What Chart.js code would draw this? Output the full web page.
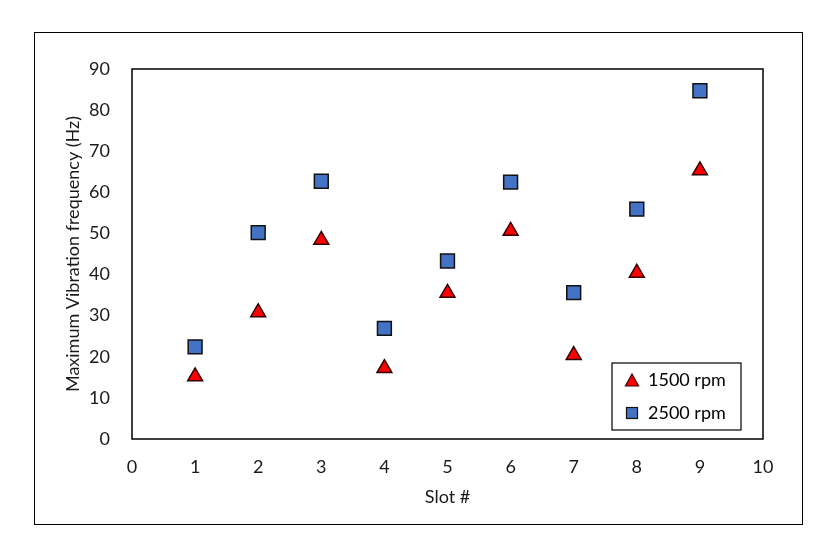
<!DOCTYPE html>
<html>
<head>
    <meta charset="UTF-8">
    <title>Maximum Vibration frequency</title>
    <script src="https://cdn.jsdelivr.net/npm/chart.js"></script>
    <style>
        html, body { margin: 0; padding: 0; background: #fff; }
        #frame {
            position: absolute; left: 34px; top: 32px;
            width: 769px; height: 493px;
            border: 1px solid #000; box-sizing: border-box;
        }
    </style>
</head>
<body>
    <div id="frame"><canvas id="chart"></canvas></div>
    <script>
        // data
        const slots = [1, 2, 3, 4, 5, 6, 7, 8, 9];
        const rpm1500 = [15.2, 30.8, 48.4, 17.2, 35.5, 50.6, 20.4, 40.4, 65.3];
        const rpm2500 = [22.4, 50.2, 62.7, 26.9, 43.3, 62.5, 35.6, 55.9, 84.7];
        const seriesNames = ['1500 rpm', '2500 rpm'];

        const FONT = 'Lato, "Open Sans", sans-serif';

        // box round the plot area
        const plotBox = {
            id: 'plotBox',
            beforeDatasetsDraw(chart) {
                const a = chart.chartArea, c = chart.ctx;
                c.save();
                c.strokeStyle = '#000';
                c.lineWidth = 1.5;
                c.strokeRect(a.left, a.top, a.right - a.left, a.bottom - a.top);
                c.restore();
            }
        };

        // legend drawn inside the plot, bottom right
        const boxLegend = {
            id: 'boxLegend',
            afterDraw(chart) {
                const c = chart.ctx;
                const x = 577, y = 330, w = 129, h = 67;
                c.save();
                c.fillStyle = '#fff';
                c.fillRect(x, y, w, h);
                c.strokeStyle = '#000';
                c.lineWidth = 1.2;
                c.strokeRect(x, y, w, h);
                c.font = '18px ' + FONT;
                c.fillStyle = '#000';
                c.textBaseline = 'middle';
                // triangle
                const tx = 597, ty = 348;
                c.beginPath();
                c.moveTo(tx, ty - 7);
                c.lineTo(tx + 6.5, ty + 5);
                c.lineTo(tx - 6.5, ty + 5);
                c.closePath();
                c.fillStyle = '#ff0000';
                c.fill();
                c.strokeStyle = '#300';
                c.lineWidth = 1.2;
                c.stroke();
                // square
                const sx = 597, sy = 380;
                c.fillStyle = '#4472c4';
                c.fillRect(sx - 5.5, sy - 5.5, 11, 11);
                c.strokeStyle = '#111';
                c.strokeRect(sx - 5.5, sy - 5.5, 11, 11);
                c.fillStyle = '#000';
                c.fillText(seriesNames[0], 613, 347);
                c.fillText(seriesNames[1], 613, 380);
                c.restore();
            }
        };

        const ctx = document.getElementById('chart').getContext('2d');
        new Chart(ctx, {
            type: 'scatter',
            data: {
                datasets: [
                    {
                        label: seriesNames[0],
                        data: slots.map((s, i) => ({ x: s, y: rpm1500[i] })),
                        pointStyle: 'triangle',
                        pointRadius: 8.6,
                        backgroundColor: '#ff0000',
                        borderColor: '#300',
                        borderWidth: 1.5
                    },
                    {
                        label: seriesNames[1],
                        data: slots.map((s, i) => ({ x: s, y: rpm2500[i] })),
                        pointStyle: 'rect',
                        pointRadius: 9.8,
                        backgroundColor: '#4472c4',
                        borderColor: '#111',
                        borderWidth: 1.5
                    }
                ]
            },
            options: {
                responsive: true,
                maintainAspectRatio: false,
                animation: false,
                layout: { padding: { top: 36, right: 39, left: 0, bottom: 0 } },
                plugins: {
                    legend: { display: false },
                    tooltip: { enabled: false }
                },
                scales: {
                    x: {
                        type: 'linear',
                        min: 0, max: 10,
                        grid: { display: false },
                        border: { display: false },
                        ticks: {
                            stepSize: 1,
                            padding: 9,
                            color: '#1a1a1a',
                            font: { family: FONT, size: 18 }
                        },
                        title: {
                            display: true,
                            text: 'Slot #',
                            color: '#1a1a1a',
                            padding: { top: 0, bottom: 16 },
                            font: { family: FONT, size: 18 }
                        },
                        afterFit(scale) { scale.height = 85; }
                    },
                    y: {
                        type: 'linear',
                        min: 0, max: 90,
                        grid: { display: false },
                        border: { display: false },
                        ticks: {
                            stepSize: 10,
                            padding: 14,
                            color: '#1a1a1a',
                            font: { family: FONT, size: 18 }
                        },
                        title: {
                            display: true,
                            text: 'Maximum Vibration frequency (Hz)',
                            color: '#1a1a1a',
                            padding: { top: 27, bottom: 0 },
                            font: { family: FONT, size: 18 }
                        },
                        afterFit(scale) { scale.width = 97; }
                    }
                }
            },
            plugins: [plotBox, boxLegend]
        });
    </script>
</body>
</html>
